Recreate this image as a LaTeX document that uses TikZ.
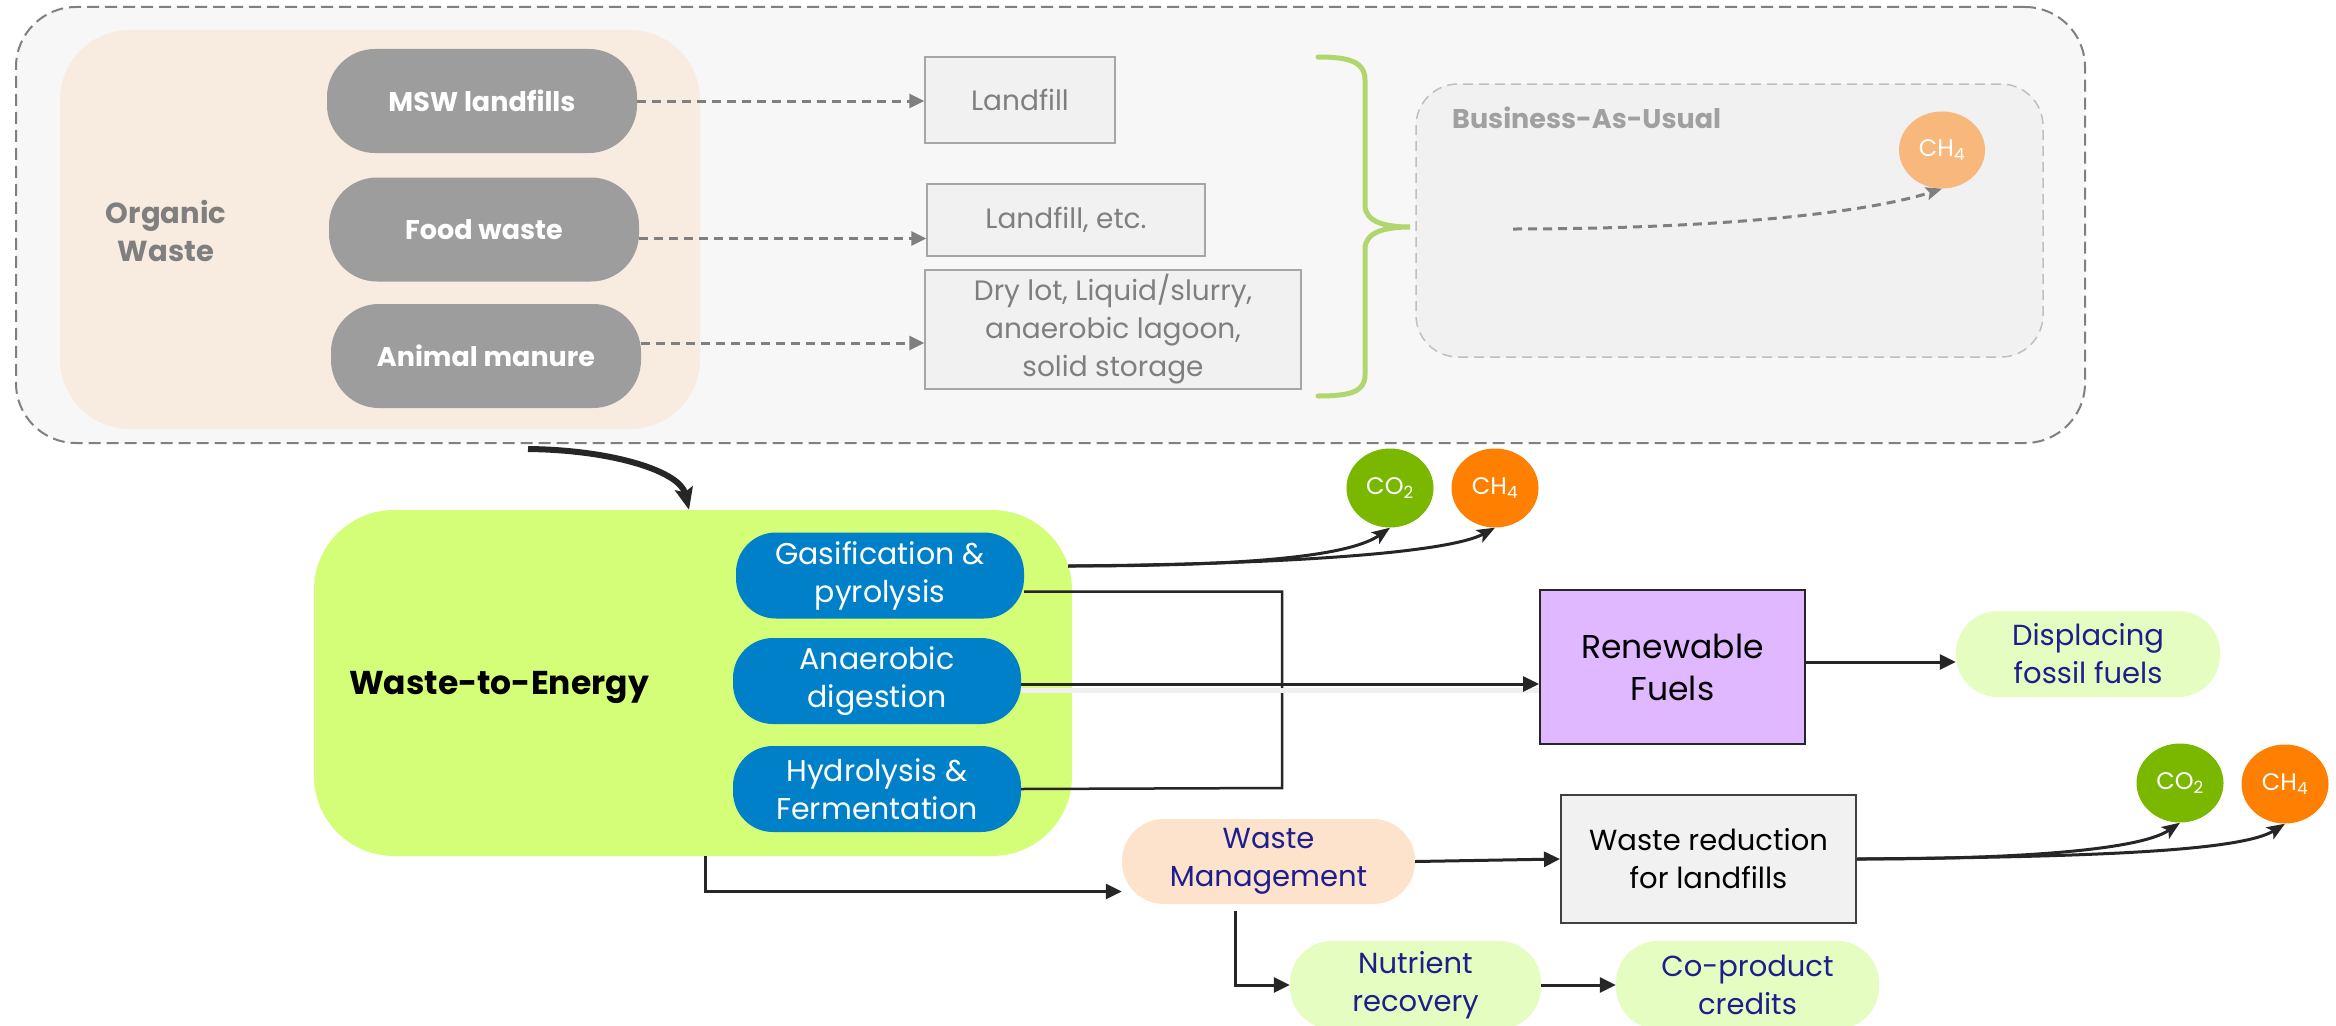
\documentclass[tikz,border=0pt]{standalone}
\usepackage{fontspec}
\setmainfont{Poppins}
\usetikzlibrary{arrows.meta,shapes.geometric}
\newcommand\fsz[2]{\fontsize{#1}{#2}\selectfont}
\definecolor{outerfill}{RGB}{247,247,247}
\definecolor{outerline}{RGB}{128,128,128}
\definecolor{peach}{RGB}{248,235,224}
\definecolor{pillgray}{RGB}{157,157,157}
\definecolor{txtgray}{RGB}{127,127,127}
\definecolor{boxfill}{RGB}{241,241,241}
\definecolor{boxline}{RGB}{166,166,166}
\definecolor{bracegreen}{RGB}{178,214,110}
\definecolor{baufill}{RGB}{241,241,241}
\definecolor{bauline}{RGB}{191,191,191}
\definecolor{bautxt}{RGB}{160,160,160}
\definecolor{lightorange}{RGB}{248,183,123}
\definecolor{lime}{RGB}{212,254,120}
\definecolor{bluepill}{RGB}{0,128,200}
\definecolor{co2green}{RGB}{122,184,0}
\definecolor{ch4orange}{RGB}{255,127,0}
\definecolor{purplebox}{RGB}{223,184,255}
\definecolor{palegreen}{RGB}{229,253,192}
\definecolor{wmpeach}{RGB}{253,227,204}
\definecolor{navy}{RGB}{30,30,140}
\definecolor{linedark}{RGB}{38,38,38}
\definecolor{wrline}{RGB}{64,64,64}
\tikzset{
  graypill/.style={fill=pillgray, rounded corners=48pt, minimum width=310pt, minimum height=104pt, inner sep=0pt, text=white, font=\bfseries\fsz{27}{32}},
  lfbox/.style={fill=boxfill, draw=boxline, line width=1.5pt, inner sep=0pt, text=txtgray, align=center, font=\fsz{28}{38}},
  dasharrow/.style={draw=txtgray, line width=3pt, dash pattern=on 9pt off 6pt, -{Triangle[length=15pt,width=14pt]}},
  bluepillst/.style={fill=bluepill, rounded corners=40pt, minimum width=288pt, minimum height=86pt, inner sep=0pt, text=white, align=center, font=\fsz{30}{38}},
  gas/.style={ellipse, minimum width=87pt, minimum height=79pt, inner sep=0pt, text=white, font=\fsz{24}{28}},
  softpill/.style={rounded corners=42pt, minimum height=86pt, inner sep=0pt, text=navy, align=center, font=\fsz{29}{38}},
  conn/.style={draw=linedark, line width=3pt, -{Triangle[length=16pt,width=15pt]}},
  curveconn/.style={draw=linedark, line width=3pt, -{Stealth[length=18pt,width=14pt,inset=4pt]}},
  plainconn/.style={draw=linedark, line width=2.5pt},
}
\begin{document}
\begin{tikzpicture}[x=1pt,y=-1pt]
\clip (0,0) rectangle (2336,1025);
\fill[white] (0,0) rectangle (2336,1025);

% ---- top panel ----
\node[fill=outerfill, draw=outerline, line width=2pt, dash pattern=on 12pt off 6pt, rounded corners=60pt, minimum width=2069pt, minimum height=436pt, inner sep=0pt] (outer) at (1050.5,225) {};
\node[fill=peach, rounded corners=70pt, minimum width=640pt, minimum height=399pt, inner sep=0pt] (organic) at (380,229.5) {};
\node[text=txtgray, align=center, font=\bfseries\fsz{29}{38}] (orgtxt) at (166,231) {Organic\\Waste};

\node[graypill] (msw) at (482,101) {MSW landfills};
\node[graypill] (food) at (484,229.5) {Food waste};
\node[graypill] (manure) at (486,356) {Animal manure};

\node[lfbox, minimum width=190pt, minimum height=86pt] (lf) at (1020,100) {Landfill};
\node[lfbox, minimum width=278pt, minimum height=72pt] (lfetc) at (1066,220) {Landfill, etc.};
\node[lfbox, minimum width=376pt, minimum height=119pt] (dry) at (1113,329.5) {Dry lot, Liquid/slurry,\\anaerobic lagoon,\\solid storage};

\draw[dasharrow] (msw.east) -- (msw.east -| lf.west);
\draw[dasharrow] ([yshift=-9pt]food.east) -- ([yshift=-9pt]food.east -| lfetc.west);
\draw[dasharrow] ([yshift=13pt]manure.east) -- ([yshift=13pt]manure.east -| dry.west);

% brace
\draw[bracegreen, line width=5pt, line cap=round]
  (1318,57) .. controls (1350,57) and (1365,62) .. (1365,80)
  -- (1365,205) .. controls (1365,222) and (1385,227) .. (1410,227)
  .. controls (1385,227) and (1365,232) .. (1365,249)
  -- (1365,375) .. controls (1365,392) and (1350,396) .. (1318,396);

\node[fill=baufill, draw=bauline, line width=1.5pt, dash pattern=on 10pt off 6pt, rounded corners=42pt, minimum width=627pt, minimum height=273pt, inner sep=0pt] (bau) at (1729.5,220.5) {};
\node[anchor=west, text=bautxt, font=\bfseries\fsz{27}{32}, inner sep=0pt] (bautxt) at (1452,118) {Business-As-Usual};
\node[gas, fill=lightorange, minimum width=86pt, minimum height=77pt] (ch4bau) at (1942,150) {CH\textsubscript{4}};
\coordinate (baustart) at (1513,229);
\draw[draw=txtgray, line width=3pt, dash pattern=on 9pt off 6pt, -{Stealth[length=16pt,width=13pt,inset=3pt]}]
  (baustart) .. controls (1700,229) and (1860,215) .. (ch4bau.south);

% ---- waste to energy ----
\node[fill=lime, rounded corners=80pt, minimum width=758pt, minimum height=346pt, inner sep=0pt] (wte) at (693,683) {};
\node[font=\bfseries\fsz{33}{40}] (wtetxt) at (499,687) {Waste-to-Energy};

\node[bluepillst] (gasif) at (880,575.5) {Gasification \&\\pyrolysis};
\node[bluepillst] (anae) at (877,681) {Anaerobic\\digestion};
\node[bluepillst] (hydro) at (877,789) {Hydrolysis \&\\Fermentation};

\coordinate (bigstart) at (528,449);
\draw[draw=linedark, line width=6pt, -{Stealth[length=22pt,width=18pt,inset=4pt]}]
  (bigstart) .. controls (615,450) and (680,472) .. ([xshift=-4pt]wte.north);

\node[fill=purplebox, draw=linedark, line width=2pt, minimum width=265pt, minimum height=154pt, inner sep=0pt, align=center, font=\fsz{33}{42}] (rf) at (1672.5,667) {Renewable\\Fuels};
\node[softpill, fill=palegreen, minimum width=264pt] (disp) at (2088,654) {Displacing\\fossil fuels};

\node[gas, fill=co2green] (co2a) at (1390,488) {CO\textsubscript{2}};
\node[gas, fill=ch4orange] (ch4a) at (1495,488) {CH\textsubscript{4}};
\node[gas, fill=co2green] (co2b) at (2180,783) {CO\textsubscript{2}};
\node[gas, fill=ch4orange] (ch4b) at (2285,784) {CH\textsubscript{4}};

\coordinate (gstart) at (1068,566);
\draw[curveconn] (gstart) .. controls (1250,566) and (1350,556) .. (co2a.south);
\draw[curveconn] (gstart) .. controls (1300,564) and (1450,552) .. (ch4a.south);

\draw[plainconn] ([yshift=-16pt]gasif.east) -| (1282,788) -- (hydro.east);
\draw[draw=black!6, line width=5pt] ([yshift=-9pt]anae.east) -- ([yshift=-9pt]anae.east -| rf.west);
\draw[conn] ([yshift=-3pt]anae.east) -- ([yshift=-3pt]anae.east -| rf.west);
\draw[conn] ([yshift=5pt]rf.east) -- ([yshift=5pt]rf.east -| disp.west);

% ---- bottom ----
\node[softpill, fill=wmpeach, minimum width=293pt, minimum height=85pt] (wm) at (1268.5,861.5) {Waste\\Management};
\node[fill=boxfill, draw=wrline, line width=2pt, minimum width=295pt, minimum height=128pt, inner sep=0pt, align=center, font=\fsz{29}{38}] (wr) at (1708.5,859) {Waste reduction\\for landfills};
\node[softpill, fill=palegreen, minimum width=251pt, minimum height=88pt] (nr) at (1415.5,985) {Nutrient\\recovery};
\node[softpill, fill=palegreen, minimum width=263pt, minimum height=88pt] (cp) at (1747.5,985) {Co-product\\credits};

\draw[conn] ([xshift=12pt]wte.south) |- ([yshift=-30pt]wm.west);
\draw[conn] (wm.east) -- (wr.west);
\draw[conn] ([xshift=-33pt,yshift=-7pt]wm.south) |- (nr.west);
\draw[conn] (nr.east) -- (cp.west);

\draw[curveconn] (wr.east) .. controls (2020,859) and (2140,850) .. (co2b.south);
\draw[curveconn] (wr.east) .. controls (2080,857) and (2240,852) .. (ch4b.south);
\end{tikzpicture}
\end{document}
